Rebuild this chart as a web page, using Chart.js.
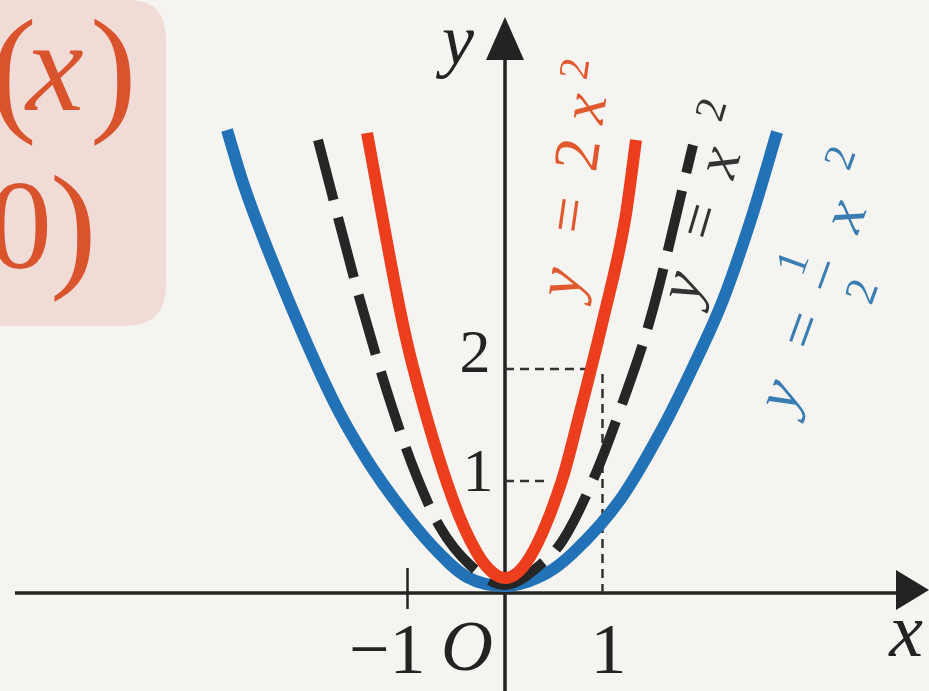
<!DOCTYPE html>
<html>
<head>
<meta charset="utf-8">
<script src="https://cdn.jsdelivr.net/npm/chart.js@4.4.0/dist/chart.umd.min.js"></script>
<style>
  html, body { margin: 0; padding: 0; background: #f6f4f1; }
  canvas { display: block; }
</style>
</head>
<body>
<canvas id="graph" width="929" height="691"></canvas>
<script>
// points, graph units
const redX = [-1.415, -1.077, -0.944, -0.533, -0.287, -0.123, 0, 0.256, 0.585, 0.749, 1.005, 1.231, 1.344];
const redY = [4.107, 2.527, 2.018, 0.830, 0.357, 0.179, 0.134, 0.321, 1.009, 1.545, 2.438, 3.330, 4.045];

const blackX = [-1.918, -1.487, -1.149, -0.903, -0.667, -0.359, 0, 0.359, 0.595, 0.903, 1.179, 1.487, 1.928];
const blackY = [4.045, 2.616, 1.634, 1.036, 0.589, 0.25, 0.071, 0.25, 0.473, 1.009, 1.634, 2.438, 4.0];

const blueX = [-2.851, -2.687, -2.431, -1.764, -1.415, -1.077, -0.738, -0.390, 0, 0.431, 0.697, 1.179, 1.590, 1.928, 2.236, 2.544, 2.790];
const blueY = [4.134, 3.661, 3.063, 1.723, 1.188, 0.768, 0.411, 0.143, 0.063, 0.179, 0.357, 0.830, 1.429, 2.018, 2.616, 3.393, 4.116];

// dashed helper lines
const guideAX = [0, 0.46], guideAY = [1, 1];
const guideBX = [0, 0.85], guideBY = [2, 2];
const guideCX = [1, 1], guideCY = [0, 2];

const xTickValues = [-1, 1];
const xTickLabels = ['\u22121', '1'];
const yTickValues = [1, 2];
const yTickLabels = ['1', '2'];

const ink = '#232323';
const serif = '"Liberation Serif", "Times New Roman", serif';

function pts(xs, ys) {
  return xs.map((v, i) => ({ x: v, y: ys[i] }));
}

// origin at (505, 593), 97.5 px per x unit, 112 px per y unit
const W = 929, H = 691, OX = 505, OY = 593, SX = 97.5, SY = 112;

function mathLabel(ctx, x0, y0, deg, size, color, parts) {
  ctx.save();
  ctx.translate(x0, y0);
  ctx.rotate(deg * Math.PI / 180);
  ctx.fillStyle = color;
  ctx.strokeStyle = color;
  ctx.textAlign = 'center';
  ctx.textBaseline = 'alphabetic';
  parts.forEach(p => {
    if (p.bar) {
      ctx.lineWidth = 3;
      ctx.beginPath();
      ctx.moveTo(p.at - p.bar / 2, -p.up);
      ctx.lineTo(p.at + p.bar / 2, -p.up);
      ctx.stroke();
      return;
    }
    ctx.font = (p.it ? 'italic ' : '') + (p.size || size) + 'px ' + serif;
    ctx.fillText(p.t, p.at, -(p.up || 0));
  });
  ctx.restore();
}

const sketch = {
  id: 'sketch',
  beforeDraw(chart) {
    const ctx = chart.ctx;
    ctx.save();
    ctx.fillStyle = '#f6f4f1';
    ctx.fillRect(0, 0, W, H);

    // pink box with cut-off text at the top left
    ctx.fillStyle = '#f1dbd7';
    ctx.beginPath();
    ctx.moveTo(0, 0);
    ctx.lineTo(130, 0);
    ctx.quadraticCurveTo(166, 0, 166, 40);
    ctx.lineTo(166, 285);
    ctx.quadraticCurveTo(166, 326, 125, 326);
    ctx.lineTo(0, 326);
    ctx.closePath();
    ctx.fill();

    ctx.fillStyle = '#d9532c';
    ctx.textBaseline = 'alphabetic';
    ctx.textAlign = 'left';
    ctx.font = '140px ' + serif;
    ctx.fillText('(', -10, 116);
    ctx.fillText(')', 90, 116);
    ctx.font = 'italic 130px ' + serif;
    ctx.fillText('x', 26, 110);
    ctx.font = '128px ' + serif;
    ctx.fillText('0', -12, 268);
    ctx.font = '140px ' + serif;
    ctx.fillText(')', 50, 272);
    ctx.restore();
  },
  beforeDatasetsDraw(chart) {
    const { ctx, scales: { x, y } } = chart;
    const ox = x.getPixelForValue(0), oy = y.getPixelForValue(0);
    ctx.save();
    ctx.strokeStyle = ink;
    ctx.fillStyle = ink;
    ctx.lineWidth = 3.5;
    ctx.beginPath();
    ctx.moveTo(15, oy); ctx.lineTo(905, oy);
    ctx.moveTo(ox, H); ctx.lineTo(ox, 45);
    ctx.stroke();

    // arrow heads
    ctx.beginPath();
    ctx.moveTo(ox, 17); ctx.lineTo(ox + 19, 60); ctx.lineTo(ox - 19, 60);
    ctx.closePath(); ctx.fill();
    ctx.beginPath();
    ctx.moveTo(929, oy - 3); ctx.lineTo(896, oy - 23); ctx.lineTo(896, oy + 17);
    ctx.closePath(); ctx.fill();

    // small tick at x = -1
    ctx.lineWidth = 2.5;
    const tx = x.getPixelForValue(xTickValues[0]);
    ctx.beginPath();
    ctx.moveTo(tx, oy - 25); ctx.lineTo(tx, oy + 16);
    ctx.stroke();
    ctx.restore();
  },
  afterDatasetsDraw(chart) {
    const { ctx, scales: { x, y } } = chart;
    const ox = x.getPixelForValue(0), oy = y.getPixelForValue(0);
    ctx.save();
    ctx.fillStyle = ink;
    ctx.textBaseline = 'alphabetic';

    // axis names
    ctx.textAlign = 'center';
    ctx.font = 'italic 72px ' + serif;
    ctx.fillText('y', ox - 47, 64);
    ctx.font = 'italic 76px ' + serif;
    ctx.fillText('x', 906, 656);

    // x ticks and origin
    ctx.font = '72px ' + serif;
    ctx.textAlign = 'right';
    ctx.fillText(xTickLabels[0], x.getPixelForValue(xTickValues[0]) + 18, oy + 80);
    ctx.textAlign = 'center';
    ctx.fillText(xTickLabels[1], x.getPixelForValue(xTickValues[1]) + 6, oy + 80);
    ctx.font = 'italic 72px ' + serif;
    ctx.fillText('O', ox - 38, oy + 77);

    // y ticks
    ctx.font = '62px ' + serif;
    ctx.fillText(yTickLabels[0], ox - 27, y.getPixelForValue(yTickValues[0]) + 10);
    ctx.fillText(yTickLabels[1], ox - 30, y.getPixelForValue(yTickValues[1]) + 3);
    ctx.restore();

    // curve names along the branches
    mathLabel(ctx, 577, 307, -82, 64, '#e0592e', [
      { t: 'y', it: true, at: 22 },
      { t: '=', at: 90 },
      { t: '2', at: 151 },
      { t: 'x', it: true, at: 198 },
      { t: '2', size: 42, at: 236, up: 22 }
    ]);
    mathLabel(ctx, 694, 313, -73.5, 62, '#333333', [
      { t: 'y', it: true, at: 22 },
      { t: '=', at: 90 },
      { t: 'x', it: true, at: 152 },
      { t: '2', size: 42, at: 200, up: 28 }
    ]);
    mathLabel(ctx, 788, 427, -70, 62, '#3a7db3', [
      { t: 'y', it: true, at: 27 },
      { t: '=', at: 96 },
      { t: '1', size: 44, at: 156, up: 38 },
      { bar: 28, at: 155, up: 18 },
      { t: '2', size: 44, at: 153, up: -37 },
      { t: 'x', it: true, at: 218 },
      { t: '2', size: 42, at: 271, up: 30 }
    ]);
  }
};

const curve = {
  showLine: true,
  pointRadius: 0,
  fill: false,
  cubicInterpolationMode: 'monotone',
  borderCapStyle: 'butt',
  borderJoinStyle: 'round'
};
const guide = {
  showLine: true,
  pointRadius: 0,
  fill: false,
  borderColor: '#333333',
  borderWidth: 2.5,
  borderDash: [9, 6],
  order: 5
};

new Chart(document.getElementById('graph'), {
  type: 'scatter',
  data: {
    datasets: [
      Object.assign({ label: 'y = 2x²', data: pts(redX, redY), borderColor: '#ec3d1c', borderWidth: 12, order: 0 }, curve),
      Object.assign({ label: 'y = x²', data: pts(blackX, blackY), borderColor: '#262626', borderWidth: 10, borderDash: [62, 18], order: 1 }, curve),
      Object.assign({ label: 'y = ½x²', data: pts(blueX, blueY), borderColor: '#2172b6', borderWidth: 12, order: 2 }, curve),
      Object.assign({ data: pts(guideAX, guideAY) }, guide),
      Object.assign({ data: pts(guideBX, guideBY) }, guide),
      Object.assign({ data: pts(guideCX, guideCY) }, guide)
    ]
  },
  options: {
    responsive: false,
    animation: false,
    devicePixelRatio: 1,
    layout: { padding: 0, autoPadding: false },
    plugins: { legend: { display: false }, tooltip: { enabled: false } },
    scales: {
      x: { type: 'linear', display: false, min: -OX / SX, max: (W - OX) / SX },
      y: { type: 'linear', display: false, min: -(H - OY) / SY, max: OY / SY }
    }
  },
  plugins: [sketch]
});
</script>
</body>
</html>
